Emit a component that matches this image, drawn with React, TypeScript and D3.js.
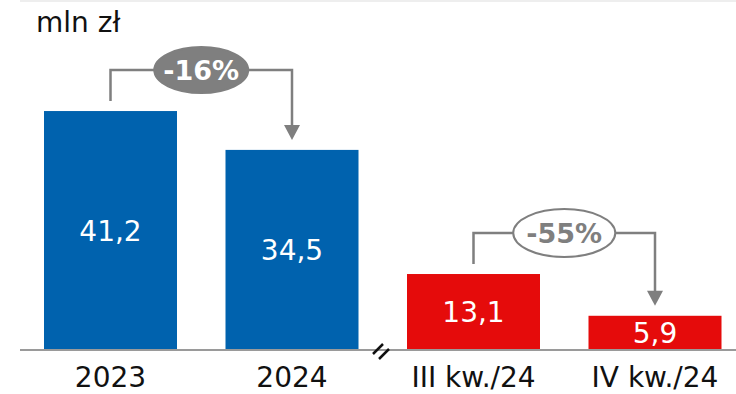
import React from "react";
import * as d3 from "d3";

const categories = ["2023", "2024", "III kw./24", "IV kw./24"];
const values = [41.2, 34.5, 13.1, 5.9];
const valueLabels = ["41,2", "34,5", "13,1", "5,9"];
const barColors = ["#0062ae", "#0062ae", "#e50b0b", "#e50b0b"];
const changes = [
  { from: 0, to: 1, label: "-16%", filled: true },
  { from: 2, to: 3, label: "-55%", filled: false },
];
const unitLabel = "mln zł";

const W = 736;
const H = 394;
const FONT = "'DejaVu Sans', 'Open Sans', sans-serif";

export default function App() {
  const x = d3
    .scaleBand<string>()
    .domain(categories)
    .range([19.75, 745.75])
    .paddingInner(0.2672)
    .paddingOuter(0.1336);
  const y = d3.scaleLinear().domain([0, 50]).range([350, 60]);
  const bw = x.bandwidth();
  const grey = "#7f7f7f";

  return (
    <svg
      width={W}
      height={H}
      style={{ position: "absolute", left: 0, top: 0 }}
      fontFamily={FONT}
    >
      <line x1={20} x2={736} y1={1} y2={1} stroke="#eeeeee" strokeWidth={2} />
      <text x={36} y={32} fontSize={28} fill="#111">
        {unitLabel}
      </text>
      {categories.map((c, i) => (
        <g key={c}>
          <rect
            x={x(c)}
            y={y(values[i])}
            width={bw}
            height={y(0) - y(values[i])}
            fill={barColors[i]}
          />
          <text
            x={(x(c) as number) + bw / 2}
            y={(y(values[i]) + y(0)) / 2 + 10}
            fontSize={28}
            fill="#fff"
            textAnchor="middle"
          >
            {valueLabels[i]}
          </text>
          <text
            x={(x(c) as number) + bw / 2}
            y={387}
            fontSize={28}
            fill="#111"
            textAnchor="middle"
          >
            {c}
          </text>
        </g>
      ))}
      <line x1={20} x2={736} y1={350} y2={350} stroke="#9a9a9a" strokeWidth={2} />
      <g stroke="#111" strokeWidth={2.5}>
        <line x1={373} y1={354} x2={383} y2={344} />
        <line x1={379} y1={359} x2={389} y2={349} />
      </g>
      {changes.map((ch) => {
        const x1 = (x(categories[ch.from]) as number) + bw / 2;
        const x2 = (x(categories[ch.to]) as number) + bw / 2;
        const yTop = y(values[ch.from]);
        const by = yTop - 41;
        const startY = yTop - 10;
        const tipY = y(values[ch.to]) - 10;
        const cx = (x1 + x2) / 2;
        const rx = ch.filled ? 47 : 51;
        const ry = ch.filled ? 23 : 24;
        return (
          <g key={ch.label}>
            <path
              d={`M${x1},${startY}V${by}H${x2}V${tipY - 14}`}
              fill="none"
              stroke={grey}
              strokeWidth={2.5}
            />
            <path
              d={`M${x2 - 8},${tipY - 15}L${x2 + 8},${tipY - 15}L${x2},${tipY}Z`}
              fill={grey}
            />
            <ellipse
              cx={cx}
              cy={by}
              rx={rx}
              ry={ry}
              fill={ch.filled ? grey : "#fff"}
              stroke={grey}
              strokeWidth={2}
            />
            <text
              x={cx}
              y={by + 10}
              fontSize={27}
              fontWeight="bold"
              fill={ch.filled ? "#fff" : grey}
              textAnchor="middle"
            >
              {ch.label}
            </text>
          </g>
        );
      })}
    </svg>
  );
}
